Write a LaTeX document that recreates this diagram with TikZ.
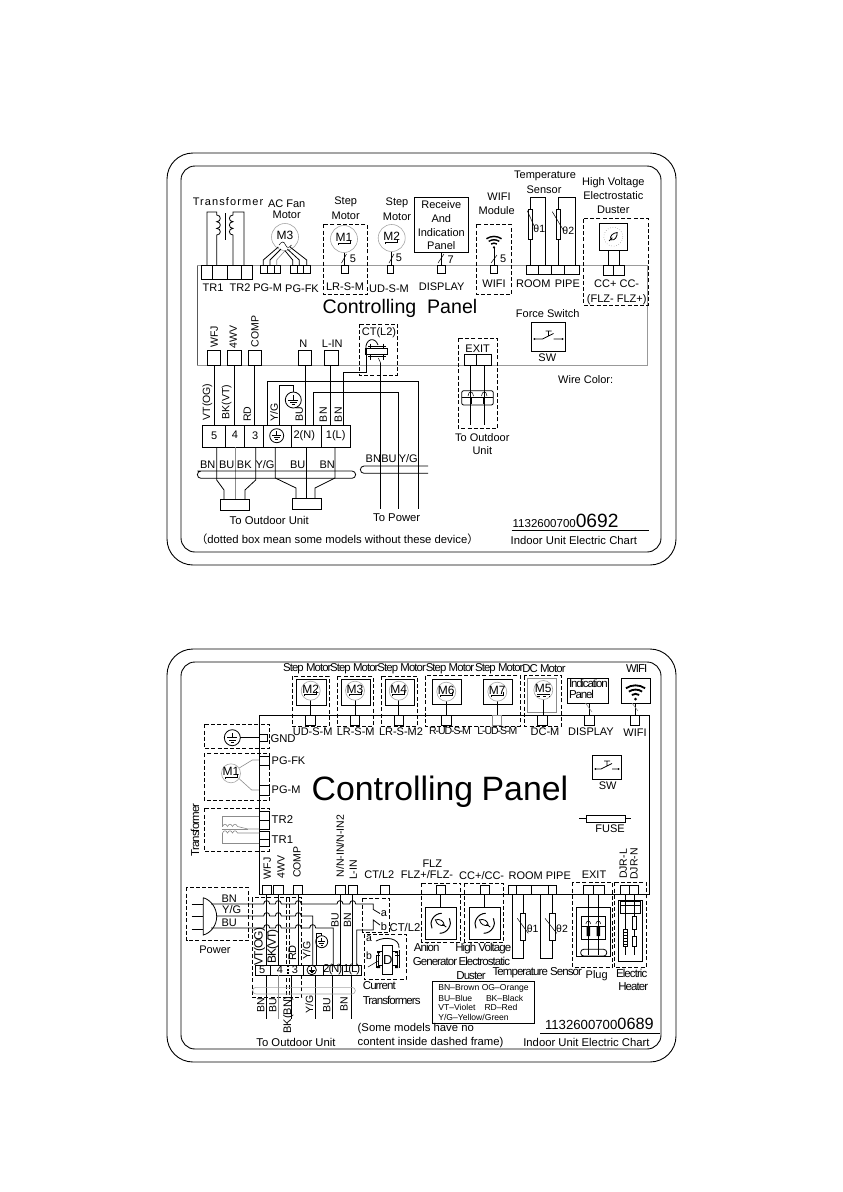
\documentclass[tikz,border=0pt]{standalone}
\usepackage{fontspec}
\setmainfont{Liberation Sans}
\newfontfamily\cond[LetterSpace=-8]{Liberation Sans}
\newfontfamily\condb[LetterSpace=-10]{Liberation Sans}
\newfontfamily\widef[LetterSpace=10]{Liberation Sans}
\newfontfamily\cjk{Noto Sans CJK SC}
\newcounter{tn}
\tikzset{
  lbl/.style={inner sep=0pt,outer sep=0pt,text=black},
  wire/.style={draw=black,line width=.8pt},
  gwire/.style={draw=black!45,line width=.6pt},
  dbox/.style={draw=black,line width=.8pt,dash pattern=on 4pt off 2.2pt},
  sbox/.style={draw=black,line width=.8pt,fill=white},
  cbox/.style={draw=black,line width=.8pt},
  frame/.style={draw=black,line width=.9pt,rounded corners=#1},
  panel/.style={draw=black!40,line width=.7pt}
}
% opt, x, y, size, text
\newcommand\txt[5][]{\stepcounter{tn}\node[lbl,#1] (t\arabic{tn}) at (#2,#3) {\fontsize{#4}{#4}\selectfont #5};}
\newcommand\rtxt[4]{\txt[rotate=90]{#1}{#2}{#3}{#4}}
\newcommand\conn[4]{\draw[cbox] (#1,#2) rectangle (#3,#4);}
\newcommand\hopp[2]{ -- (#1-3,#2) .. controls (#1-3,#2-4.5) and (#1+3,#2-4.5) .. (#1+3,#2)}
\newcommand\gnd[3]{\draw[wire] (#1,#2) circle[radius=#3pt];
  \draw[wire] (#1,#2-.62*#3) -- (#1,#2);
  \draw[wire] (#1-.62*#3,#2) -- (#1+.62*#3,#2) (#1-.42*#3,#2+.28*#3) -- (#1+.42*#3,#2+.28*#3) (#1-.2*#3,#2+.56*#3) -- (#1+.2*#3,#2+.56*#3);}
\newcommand\mcirc[4]{\draw[draw=black!35,line width=.6pt,fill=white] (#1,#2) circle[radius=#3pt];\txt{#1}{#2-1.5}{12}{#4}}
\newcommand\stepg[2]{\draw[wire,line width=.6pt] (#1-6,#2+6) -- (#1-6,#2+4) -- (#1+6,#2+4) -- (#1+6,#2+1);}
\newcommand\swsym[4]{\draw[wire] (#1,#2) rectangle (#3,#4);
  \draw[wire] (#1+3,{(#2+#4)/2+2}) -- ({(#1+#3)/2-6},{(#2+#4)/2+2}) -- ({(#1+#3)/2+5},{(#2+#4)/2-3.5})
  ({(#1+#3)/2+5},{(#2+#4)/2+2}) -- (#3-3,{(#2+#4)/2+2})
  ({(#1+#3)/2-3},{(#2+#4)/2-6}) -- ({(#1+#3)/2+3},{(#2+#4)/2-6}) ({(#1+#3)/2},{(#2+#4)/2-6}) -- ({(#1+#3)/2},{(#2+#4)/2-1.5});
  \fill (#1+3,{(#2+#4)/2+2}) circle[radius=1pt] (#3-3,{(#2+#4)/2+2}) circle[radius=1pt];}
\newcommand\wifi[3]{\fill (#1,#2+#3*.62) circle[radius=#3*.11pt];
  \foreach \r in {.4,.72,1.04}{\draw[black,line width=#3*.13pt] (#1-\r*#3*.66,#2+.62*#3-\r*#3*.75) .. controls (#1-\r*#3*.25,#2+.62*#3-\r*#3*1.02) and (#1+\r*#3*.25,#2+.62*#3-\r*#3*1.02) .. (#1+\r*#3*.66,#2+.62*#3-\r*#3*.75);}}
% leaf rising to upper right
\newcommand\leaf[3]{\draw[wire] (#1-#3*.6,#2+#3*.6) -- (#1-#3*.15,#2+#3*.15);
  \draw[wire] (#1-#3*.3,#2+#3*.45) .. controls (#1-#3*.65,#2-#3*.1) and (#1,#2-#3*.55) .. (#1+#3*.55,#2-#3*.6) .. controls (#1+#3*.6,#2) and (#1+#3*.2,#2+#3*.6) .. cycle;}
% leaf falling to lower right, inside two open arcs
\newcommand\leafb[3]{\draw[wire] (#1+#3*.8,#2+#3*.55) -- (#1+#3*.25,#2+#3*.12);
  \draw[wire] (#1-#3*.75,#2-#3*.5) .. controls (#1-#3*.1,#2-#3*.7) and (#1+#3*.5,#2-#3*.3) .. (#1+#3*.5,#2+#3*.3) .. controls (#1,#2+#3*.4) and (#1-#3*.6,#2+#3*.2) .. cycle;
  \draw[wire,line width=1pt] (#1-8.7,#2+5) .. controls (#1-12,#2-1) and (#1-7,#2-10) .. (#1+1,#2-10);
  \draw[wire,line width=1pt] (#1+8.7,#2-5) .. controls (#1+12,#2+1) and (#1+7,#2+10) .. (#1-1,#2+10);}
\newcommand\resis[4]{\draw[sbox] (#1,#2) rectangle (#3,#4);}
\begin{document}
\begin{tikzpicture}[x=1pt,y=-1pt]
\useasboundingbox (0,0) rectangle (843,1192);
\fill[white] (0,0) rectangle (843,1192);
% ========== TOP CHART ==========
\draw[frame=26pt] (167,153) rectangle (676,565);
\draw[frame=14pt] (181,166) rectangle (661,552);
\draw[panel] (197,265.5) -- (647,265.5) -- (647,365) -- (197,365);
\draw[wire,draw=black!65] (197,265.5) -- (197,365);
% Transformer
\txt{228}{201.7}{11}{\widef Transformer}
\conn{201}{265.3}{252}{279}
\draw[wire] (212,265.3)--(212,279) (227,265.3)--(227,279) (241,265.3)--(241,279);
\draw[wire] (207,265.3) -- (207,212) -- (216.7,212) -- (216.7,215)
  .. controls (221.5,215) and (221.5,221.7) .. (216.7,221.7) .. controls (221.5,221.7) and (221.5,228.4) .. (216.7,228.4) .. controls (221.5,228.4) and (221.5,235) .. (216.7,235) -- (216.7,265.3);
\draw[wire] (244,265.3) -- (244,212) -- (233,212) -- (233,215)
  .. controls (228.2,215) and (228.2,221.7) .. (233,221.7) .. controls (228.2,221.7) and (228.2,228.4) .. (233,228.4) .. controls (228.2,228.4) and (228.2,235) .. (233,235) -- (233,265.3);
\draw[wire] (225,213) -- (225,240);
% AC fan
\txt{286.7}{204}{11}{AC Fan}
\txt{286.7}{215}{11}{Motor}
\mcirc{285}{237}{13.5}{M3}
\draw[wire,line width=.5pt] (279,245) .. controls (282,241) and (284,241) .. (285.5,245) .. controls (287,248.5) and (289,248) .. (291.5,245);
\conn{260.7}{265.3}{280.7}{273}\draw[wire] (267.4,265.3)--(267.4,273) (274,265.3)--(274,273);
\conn{290.7}{265.3}{310}{273}\draw[wire] (297.1,265.3)--(297.1,273) (303.5,265.3)--(303.5,273);
\draw[wire] (278.3,247) -- (263.3,260) -- (263.3,265.3);
\draw[wire] (281,249) -- (270,260) -- (270,265.3);
\draw[gwire] (285,250.7) -- (276.7,260) -- (276.7,265.3);
\draw[wire] (290,247) -- (306.7,260) -- (306.7,265.3);
\draw[wire] (287.3,249) -- (299.3,260) -- (299.3,265.3);
\draw[wire] (285,250.7) -- (292.7,260) -- (292.7,265.3);
\txt{213}{287.7}{11}{TR1}\txt{240}{287.7}{11}{TR2}\txt{267.7}{288}{11}{PG-M}\txt{302}{288.7}{11}{PG-FK}
% step motors
\txt{345.7}{202}{11}{Step}\txt{345.7}{216}{11}{Motor}
\txt{397}{203}{11}{Step}\txt{397}{217}{11}{Motor}
\draw[dbox] (323.3,224.3) rectangle (367.3,294.3);
\draw[wire] (344,252.5) -- (344,265.3);
\mcirc{344}{239}{13.5}{M1}\stepg{344}{239}
\draw[wire,line width=.5pt] (341.5,263) -- (346.5,254);
\txt{353}{259}{11}{5}
\conn{341.3}{265.3}{348.3}{273.3}
\txt{345}{287}{11}{LR-S-M}
\draw[wire] (391.7,251.5) -- (391.7,265.3);
\mcirc{391.7}{238}{13.5}{M2}\stepg{391.7}{238}
\draw[wire,line width=.5pt] (389,263) -- (394,254);
\txt{399}{258}{11}{5}
\conn{387}{265.3}{393.5}{273.3}
\txt{389}{289}{11}{UD-S-M}
\txt[anchor=west]{322.7}{308}{19.6}{Controlling\hspace{.55em}Panel}
% Receive
\draw[wire] (414.3,197.3) rectangle (468.3,252.3);
\txt{441.3}{205}{11}{Receive}\txt{441.3}{218.3}{11}{And}\txt{441.3}{232.3}{11}{Indication}\txt{441.3}{246}{11}{Panel}
\draw[wire] (441.7,252.3) -- (441.7,265.3);
\draw[wire,line width=.5pt] (438,263) -- (444,254);
\txt{450.7}{260}{11}{7}
\conn{437.3}{265.3}{445}{273}
\txt{441.7}{286.7}{11}{DISPLAY}
% WIFI
\txt{499}{196.7}{11}{WIFI}\txt{496.7}{211}{11}{Module}
\draw[dbox] (476.7,224.3) rectangle (511.3,294.3);
\wifi{494}{240.5}{11}
\draw[wire] (494,247) -- (494,265.3);
\draw[wire,line width=.5pt] (491,263) -- (497,255);
\txt{503.3}{259}{11}{5}
\conn{490.3}{265.3}{497.7}{273.3}
\txt{494}{284}{11}{WIFI}
% Temperature
\txt{545}{175.7}{11}{Temperature}\txt{544}{190}{11}{Sensor}
\draw[wire] (530.7,265.3) -- (530.7,197.3) -- (545.7,197.3) -- (545.7,265.3);
\resis{528.7}{209.3}{532.7}{239.3}
\draw[wire,line width=.5pt] (527.3,210.7) -- (535,228);
\txt{539.3}{229}{10.5}{θ1}
\draw[wire] (558.3,265.3) -- (558.3,197.3) -- (575.3,197.3) -- (575.3,265.3);
\resis{556.7}{209.3}{560.3}{239.3}
\draw[wire,line width=.5pt] (552.3,211.7) -- (563.3,230);
\txt{568.3}{230.7}{10.5}{θ2}
\conn{526.3}{265.3}{579}{274}\draw[wire] (538.3,265.3)--(538.3,274) (551,265.3)--(551,274) (564.7,265.3)--(564.7,274);
\txt{533.3}{284}{11}{ROOM}\txt{567.3}{284}{11}{PIPE}
% HV
\txt{613.3}{182.3}{11}{High Voltage}\txt{613.3}{196}{11}{Electrostatic}\txt{613.3}{210}{11}{Duster}
\draw[dbox] (583.7,218.7) rectangle (648.3,305);
\draw[wire] (599.3,223.3) rectangle (627.3,250);
\draw[draw=black!50,dotted,line width=.5pt] (613.3,236.7) circle[radius=9.5pt];
\leaf{613.3}{236.7}{7}
\draw[wire] (608.3,250)--(608.3,265.3) (619.3,250)--(619.3,265.3);
\conn{603.3}{265.3}{624.3}{275}\draw[wire] (613.7,265.3)--(613.7,275);
\txt{616.7}{284}{11}{CC+ CC-}\txt{616.7}{299.3}{11}{(FLZ- FLZ+)}
% SW
\txt{547.7}{313.3}{11}{Force Switch}
\swsym{531.3}{322.7}{565.7}{351.3}
\txt{547.3}{357.3}{11}{SW}
% Lower connectors
\conn{207.3}{350}{220.7}{365}\conn{227.3}{350}{241.3}{365}\conn{248.3}{350}{261.3}{365}\conn{298.3}{350}{311.7}{365}\conn{324.7}{350}{338.3}{365}
\rtxt{214.3}{337}{10.5}{WFJ}\rtxt{233.3}{336.7}{10.5}{4WV}\rtxt{255}{331.7}{10.5}{COMP}
\txt{303.3}{344}{11}{N}\txt{332.3}{344}{11}{L-IN}
% CT(L2)
\draw[dbox] (359.3,324) rectangle (397.3,375);
\txt{379}{333}{11}{CT(L2)}
\draw[wire] (366,349) .. controls (365,339) and (375,336) .. (378,345);
\draw[wire] (370,343.5) -- (370,359.5) (383.3,343.5) -- (383.3,359.5);
\draw[black,line width=1.3pt] (368,346.3) -- (386,346.3) (368,356.8) -- (386,356.8);
\draw[sbox,line width=1.2pt] (366,348.3) rectangle (387.7,354.2);
\draw[wire,line width=.6pt] (366.7,354.2) -- (366.7,359);
\draw[wire,line width=.5pt] (378.3,358) -- (380.7,363);
% Wires to terminals
\draw[wire] (214.3,365)--(214.3,425) (234.3,365)--(234.3,425) (254,365)--(254,425) (305.7,365)--(305.7,425) (330.3,365)--(330.3,425);
\draw[wire] (267.3,425)--(267.3,381.3)--(418.3,381.3)--(418.3,509.3);
\draw[wire] (279.3,425)--(279.3,385.3)--(293.3,385.3)--(293.3,392);
\gnd{293.3}{400}{8}
\draw[wire] (313.7,425)--(313.7,392.3)--(398.3,392.3)--(398.3,509.3);
\draw[wire] (343.3,425)--(343.3,372.3)--(366.7,372.3)--(366.7,359);
\draw[wire] (380.7,363)--(380.7,509.3);
% Terminal block
\draw[wire,fill=white] (202.7,425) rectangle (350,447.3);
\draw[wire] (225.3,425)--(225.3,447.3) (244.7,425)--(244.7,447.3) (263.7,425)--(263.7,447.3) (291.3,425)--(291.3,447.3) (321.7,425)--(321.7,447.3);
\txt{214.3}{435.7}{11}{5}\txt{235}{435}{11}{4}\txt{255.3}{435.7}{11}{3}\gnd{276.7}{435.7}{7}\txt{304.3}{435.7}{11}{2(N)}\txt{335.7}{435.7}{11}{1(L)}
\rtxt{207.3}{402}{10.5}{VT(OG)}\rtxt{226.7}{402}{10.5}{BK(VT)}\rtxt{247.3}{414}{10.5}{RD}\rtxt{274}{412.7}{10.5}{Y/G}\rtxt{299.3}{414}{10.5}{BU}\rtxt{323.3}{414.7}{10.5}{BN}\rtxt{338.3}{414.7}{10.5}{BN}
\draw[wire] (216.7,447.3)--(216.7,480)--(224,490)--(224,499.3);
\draw[gwire] (235.7,447.3)--(235.7,499.3);
\draw[wire] (255.7,447.3)--(255.7,480)--(245,490)--(245,499.3);
\draw[wire] (275.3,447.3)--(275.3,478)--(296,488)--(296,498.3);
\draw[wire] (306.7,447.3)--(306.7,498.3);
\draw[wire] (335,447.3)--(335,478)--(315,488)--(315,498.3);
\draw[wire] (220,499.3) rectangle (249.3,510);
\draw[wire] (292.3,498.3) rectangle (321.7,509);
\draw[wire] (197.3,471) -- (352,471) arc[start angle=90,end angle=-90,radius=3.65pt] -- (201,478.3) arc[start angle=270,end angle=90,radius=3.65pt];
\draw[wire] (364,466) -- (428,466) (428,473.3) -- (364,473.3) arc[start angle=270,end angle=90,radius=3.65pt];
\txt{207.7}{464.3}{11}{BN}\txt{226.7}{464.3}{11}{BU}\txt{244.3}{465}{11}{BK}\txt{265}{465}{11}{Y/G}\txt{297.7}{465}{11}{BU}\txt{327.3}{465}{11}{BN}
\txt{373.3}{459}{11}{BN}\txt{389}{459}{11}{BU}\txt{408.3}{459}{11}{Y/G}
\txt{269.3}{520}{11.3}{To Outdoor Unit}\txt{396.7}{517.7}{11.3}{To Power}
\txt[anchor=west]{196}{539.3}{11.3}{{\cjk （}dotted box mean some models without these device{\cjk ）}}
% EXIT
\draw[dbox] (458.3,338.3) rectangle (497.7,428.3);
\txt{477.7}{348.3}{11}{EXIT}
\conn{464.3}{354.3}{491}{365.7}\draw[wire] (476.7,354.3)--(476.7,365.7);
\draw[wire] (470.7,365.7)--(470.7,425) (484.3,365.7)--(484.3,425);
\draw[wire,rounded corners=2pt] (461.7,390.7) rectangle (493.3,405);
\draw[wire] (461.7,397.3)--(493.3,397.3);
\draw[black,line width=2pt] (470.7,398.3)--(470.7,404) (484.3,398.3)--(484.3,404);
\draw[wire,line width=.5pt] (468,396) .. controls (468.5,390.5) and (473,390.5) .. (473.5,396) (481.5,396) .. controls (482,390.5) and (486.5,390.5) .. (487,396);
\txt{482.3}{437.3}{11}{To Outdoor}\txt{482.3}{450.7}{11}{Unit}
\txt{585.7}{379.3}{11}{Wire Color:}
% code
\txt[anchor=base west]{512.7}{527}{11.5}{1132600700{\fontsize{19.2}{19.2}\selectfont 0692}}
\draw[wire] (511.7,530.3) -- (649,530.3);
\txt[anchor=west]{510.7}{540}{11.3}{Indoor Unit Electric Chart}
% ========== BOTTOM CHART ==========
\draw[frame=26pt] (167,649) rectangle (676,1062);
\draw[frame=14pt] (181,662) rectangle (661,1049);
\draw[wire] (259.3,894.3) -- (259.3,715.3) -- (649.7,715.3) -- (649.7,894.3) -- cycle;
% top motors
\newcommand\topm[8]{%  dash L,R; solid L,R; cx; conn L,R; name
 \draw[dbox] (#1,676.3) rectangle (#2,726);
 \draw[wire] (#3,679.3) rectangle (#4,705);
 \draw[wire] (#5,700) -- (#5,715.3);
 \mcirc{#5}{690.7}{9.5}{#8}\stepg{#5}{690}
 \draw[wire] (#6,715.3) rectangle (#7,725);
 }
\topm{292.3}{329.3}{296}{326}{310.7}{305.7}{315.7}{M2}
\topm{337.3}{373.3}{341.7}{370}{355}{350.3}{359.7}{M3}
\topm{381.3}{417.7}{385.3}{414.3}{398.7}{394.7}{403.3}{M4}
\draw[dbox] (425.3,675.5) rectangle (520,726);
\draw[wire] (432.3,679.3) rectangle (461.7,704.3);
\draw[wire] (446.3,700) -- (446.3,715.3);
\mcirc{446.3}{691.7}{9.5}{M6}\stepg{446.3}{691}
\conn{441}{715.3}{451.7}{725}
\draw[wire] (483.3,679.3) rectangle (512.3,704.3);
\draw[wire] (497.3,700) -- (497.3,715.3);
\mcirc{497.3}{691.7}{9.5}{M7}\stepg{497.3}{691}
\draw[gwire] (492.7,715.3) rectangle (501.7,725);
\draw[dbox] (524.3,675.5) rectangle (561.7,726);
\draw[gwire] (527.3,678.3) rectangle (556,712.3);
\draw[wire] (543.3,700) -- (543.3,715.3);
\mcirc{543.3}{690}{9.5}{M5}\draw[wire,dashed,line width=.4pt] (537,696)--(549.5,696);\draw[wire,line width=.4pt] (537,694.3)--(549.5,694.3);
\conn{537.7}{715.3}{547.3}{725}
\txt{307.3}{668.3}{11.4}{\cond Step Motor}\txt{354.3}{668.3}{11.4}{\cond Step Motor}\txt{401.7}{668.3}{11.4}{\cond Step Motor}\txt{450}{668.3}{11.4}{\cond Step Motor}\txt{499.3}{668.3}{11.4}{\cond Step Motor}\txt{544}{668.3}{11.4}{\cond DC Motor}\txt{636.7}{668.3}{11.4}{\cond WIFI}
\txt{312.7}{731.7}{11}{UD-S-M}\txt{355.7}{731.7}{11}{LR-S-M}\txt{401}{731.7}{11}{LR-S-M2}\txt{450}{731}{10.5}{\condb R-UD-S-M}\txt{497.3}{731}{10.5}{\condb L-UD-S-M}\txt{545}{731.7}{11}{DC-M}
% indication
\draw[wire] (567.3,678.3) rectangle (608.3,703.3);
\txt[anchor=west]{569}{683.3}{11.5}{\condb Indication}\txt[anchor=west]{569}{694.3}{11.5}{\condb Panel}
\draw[wire] (589.3,703.3)--(589.3,715.3);
\draw[gwire] (585.5,703)--(592,712);
\conn{584.7}{715.3}{594.3}{725}
\txt{591}{731.7}{11}{DISPLAY}
\draw[wire] (621.3,678.3) rectangle (650.7,703.3);
\wifi{635.5}{690.5}{14}
\draw[wire] (635.3,703.3)--(635.3,715.3);
\draw[gwire] (632,703)--(638,711);
\conn{630.7}{715.3}{639.3}{725}
\txt{635}{732.3}{11}{WIFI}
% left
\draw[dbox] (204.3,724.3) rectangle (269.3,748.3);
\gnd{232.3}{737.7}{8}
\draw[wire] (240.3,737.7) -- (259.3,737.7);
\conn{259.3}{734.3}{267.3}{741.7}
\txt[anchor=west]{270.5}{738.3}{11.3}{GND}
\draw[dbox] (204.3,753.3) rectangle (269.3,800.3);
\draw[gwire] (238.7,768.3) -- (252.3,760) -- (259.3,760);
\draw[gwire] (238.7,778.3) -- (251.7,790) -- (259.3,790);
\mcirc{231}{773.3}{9.5}{M1}\stepg{231}{773}
\conn{259.3}{756.7}{269.3}{765.7}\conn{259.3}{785}{269.3}{795}
\txt[anchor=west]{271.7}{761}{11}{PG-FK}\txt[anchor=west]{271.7}{789.3}{11}{PG-M}
\draw[dbox] (204.3,808.3) rectangle (269.3,851);
\draw[wire] (259.3,811.7) rectangle (269.3,829) (259.3,831) rectangle (269.3,846.7);
\draw[wire] (259.3,820.3)--(269.3,820.3) (259.3,839)--(269.3,839);
\draw[gwire] (259.3,816) -- (222.5,816) -- (222.5,826.5);
\draw[gwire] (222.5,826.5) .. controls (224,823.5) and (226,823.5) .. (227.5,826.5) .. controls (229,823.5) and (231,823.5) .. (232.5,826.5) .. controls (234,823.5) and (236,823.5) .. (237.5,826.5) -- (248,829) -- (259.3,829);
\draw[gwire] (222,829.5) -- (248,829.5);
\draw[gwire] (259.3,843) -- (222.5,843) -- (222.5,833);
\draw[gwire] (222.5,833) .. controls (224,830) and (226,830) .. (227.5,833) .. controls (229,830) and (231,830) .. (232.5,833) .. controls (234,830) and (236,830) .. (237.5,833) -- (259.3,833);
\rtxt{195}{830}{11.5}{\cond Transformer}
\txt[anchor=west]{271.7}{820}{11.3}{TR2}\txt[anchor=west]{271.7}{840}{11.3}{TR1}
\txt[anchor=west]{311.7}{791.7}{33.8}{Controlling\hspace{.25em}Panel}
\swsym{592.3}{755}{621.7}{779}
\txt{607.7}{786}{11}{SW}
\draw[wire] (579.3,818.7) -- (586,818.7) (625,818.7) -- (630.7,818.7);
\draw[wire] (586,815) rectangle (625,822.3);
\txt{610}{828.3}{11}{FUSE}
\rtxt{623.3}{864}{10.5}{DJR-L}\rtxt{634}{864}{10.5}{DJR-N}
% bottom labels
\conn{262}{885}{271.7}{894.3}\conn{273.7}{885}{283.3}{894.3}\conn{293.3}{885}{302.7}{894.3}\conn{335.7}{885}{345.7}{894.3}\conn{348.3}{885}{357.3}{894.3}\conn{380.3}{885}{389.7}{894.3}
\rtxt{267.3}{868.3}{10.5}{WFJ}\rtxt{281}{866.7}{10.5}{4WV}\rtxt{297}{862}{10.5}{COMP}\rtxt{340}{846}{10.5}{N/N-IN/N-IN2}\rtxt{353.3}{870}{10.5}{L-IN}
\txt{379.3}{875}{11}{CT/L2}\txt{432.3}{863.3}{11}{FLZ}\txt{427}{875}{11}{FLZ+/FLZ-}\txt{481.7}{875.7}{11}{CC+/CC-}\txt{525.7}{875.7}{11}{ROOM}\txt{558.3}{875.7}{11}{PIPE}\txt{594}{875}{11}{EXIT}
% Power
\draw[dbox] (186.7,887.3) rectangle (248.3,940.7);
\draw[wire] (203.3,897.7) -- (203.3,935) .. controls (211,933) and (216.7,925) .. (216.7,916.7) .. controls (216.7,908) and (211,900) .. (203.3,897.7);
\draw[wire] (191.7,904)--(203.3,904) (191.7,916.7)--(203.3,916.7) (191.7,929.3)--(203.3,929.3);
\txt{229.3}{898.3}{11}{BN}\txt{231.7}{910}{11}{Y/G}\txt{229.3}{922.7}{11}{BU}
\txt{215}{950}{11}{Power}
% Dashed terminal area
\draw[dbox] (252.3,897.7) rectangle (301.7,997.3);
\draw[dbox] (286.7,897.7) -- (286.7,997.3) (289.3,897.7) -- (289.3,997.3);
% wires
\draw[wire] (266.7,894.3)--(266.7,965) (278.3,894.3)--(278.3,965) (298.3,894.3)--(298.3,965) (340,894.3)--(340,965) (352.7,894.3)--(352.7,965);
\draw[wire] (211,904) \hopp{266.7}{904} \hopp{278.3}{904} \hopp{298.3}{904} \hopp{340}{904} \hopp{352.7}{904} -- (373.3,904) -- (373.3,909.5) -- (380,913.5);
\draw[wire] (216.7,916) \hopp{266.7}{916} \hopp{278.3}{916} \hopp{298.3}{916} -- (312.7,916) -- (312.7,965);
\draw[wire] (211,928) \hopp{266.7}{928} \hopp{278.3}{928} \hopp{298.3}{928} \hopp{312.7}{928} -- (333.3,928) -- (333.3,965);
\draw[wire] (380,925) -- (373.3,920) -- (373.3,930) -- (356.7,930) -- (356.7,965);
\draw[wire] (316.7,965) -- (316.7,933.3) -- (321.7,933.3) -- (321.7,935.5);
\gnd{321.7}{941.7}{6}
\rtxt{335}{920}{10.5}{BU}\rtxt{347.5}{920}{10.5}{BN}
\draw[dbox] (362.7,898.3) rectangle (389.3,932.7);
\txt{384}{913.3}{11}{a}\txt{384}{926.7}{11}{b}
\txt{405}{927.3}{11.3}{CT/L2}
% terminal 2
\draw[wire,fill=white] (255,965) rectangle (361.7,975);
\draw[wire] (270,965)--(270,975) (303.3,965)--(303.3,975) (323.3,965)--(323.3,975) (342.7,965)--(342.7,975);
\draw[black,line width=1.2pt,dash pattern=on 2pt off 1.5pt] (288,965)--(288,975);
\txt{262.3}{970}{11}{5}\txt{280}{970}{11}{4}\txt{295}{970}{11}{3}\gnd{311.7}{970}{4.7}\txt{332.7}{970}{11.5}{\condb 2(N)}\txt{351.7}{970}{11.5}{\condb 1(L)}
\rtxt{259.5}{946.5}{12}{\cond VT(OG)}\rtxt{272.7}{946.5}{12}{\cond BK(VT)}\rtxt{292.3}{953}{11}{RD}\rtxt{306.7}{950}{10.5}{Y/G}
\draw[wire] (266.7,975)--(266.7,1019.3) (315.7,975)--(315.7,1019.3) (332.7,975)--(332.7,1019.3) (351,975)--(351,1019.3) (291.7,975)--(291.7,1019.3);
\draw[gwire] (278.3,975)--(278.3,1019.3);
\draw[draw=black!35,line width=.6pt] (256,987.3) -- (352,987.3) arc[start angle=90,end angle=-90,radius=3.35pt] -- (256,994) arc[start angle=270,end angle=90,radius=3.35pt];
\rtxt{260.7}{1005}{10.5}{BN}\rtxt{272.7}{1005}{10.5}{BU}\rtxt{288.3}{1015}{11}{BK(BN)}\rtxt{309.3}{1004}{10.5}{Y/G}\rtxt{326.7}{1005}{10.5}{BU}\rtxt{344}{1004}{10.5}{BN}
\txt{296}{1042.3}{11.3}{To Outdoor Unit}
% Current transformers
\draw[dbox] (364,934.3) rectangle (406,979.3);
\txt{369}{938.3}{10.5}{a}\txt{369}{956}{10.5}{b}
\draw[wire] (376,941) .. controls (385,936) and (400,938) .. (399,948);
\draw[wire,line width=.5pt] (368,967) -- (378,961);
\draw[wire] (376,955) -- (376,968) (399,950) -- (399,968) (376,955)--(380,955) (399,955)--(395,955);
\draw[wire] (378.5,951) rectangle (382.7,965);
\draw[wire] (392.7,951) rectangle (397,965);
\fill (377,951) rectangle (380,953) (395,951) rectangle (398,953) (377,966) rectangle (380,968) (395,966) rectangle (398,968);
\draw[sbox] (382.7,945) rectangle (392.7,974);
\txt{387.7}{960}{13}{D}
\txt{379.3}{986}{11.5}{\cond Current}\txt{391.7}{1000}{11.5}{\cond Transformers}
% FLZ
\draw[dbox] (421.7,883.3) rectangle (460.7,942.3);
\conn{436.3}{885}{445.3}{894.3}
\draw[wire] (440.7,894.3)--(440.7,907.3);
\draw[wire] (425,907.3) rectangle (456,939.3);
\leafb{440.7}{923.3}{7}
\draw[dbox] (464.7,883.3) rectangle (503.3,942.3);
\conn{480}{885}{489.3}{894.3}
\draw[wire] (484.7,894.3)--(484.7,907.3);
\draw[wire] (469,907.3) rectangle (500,939.3);
\leafb{484.7}{923.3}{7}
\txt{426.7}{947.3}{11.5}{\cond Anion}\txt{435}{961.7}{11.5}{\cond Generator}
\txt{483.3}{948.3}{11.5}{\cond High Voltage}\txt{484.3}{961.7}{11.5}{\cond Electrostatic}\txt{471}{975.7}{11.5}{\cond Duster}
% Temperature
\conn{508.3}{885}{556.7}{894.3}\draw[wire] (516.7,885)--(516.7,894.3) (531.7,885)--(531.7,894.3) (548.3,885)--(548.3,894.3);
\draw[wire] (512.3,894.3)--(512.3,958.3)--(523,958.3)--(523,894.3);
\draw[wire] (540.7,894.3)--(540.7,958.3)--(552.3,958.3)--(552.3,894.3);
\resis{520.3}{913.3}{525.7}{940}
\resis{549.7}{913.3}{555.3}{940}
\draw[wire,line width=.5pt] (517.3,918.3) -- (528.3,933.3);
\draw[wire,line width=.5pt] (545,918.3) -- (556.7,933.3);
\txt{532.7}{929}{10.5}{θ1}\txt{562}{929}{10.5}{θ2}
\txt{537.3}{972.3}{11.5}{\cond Temperature Sensor}
% Plug
\draw[dbox] (572.7,882.3) rectangle (612.3,967.3);
\conn{583.3}{885}{604}{894.3}\draw[wire] (593.3,885)--(593.3,894.3);
\draw[wire] (576,907.3) rectangle (610,956.7);
\draw[wire] (581.7,916.7) rectangle (605,939.3);
\draw[wire] (588.3,894.3)--(588.3,955) (598.3,894.3)--(598.3,955);
\draw[wire] (581.7,926)--(605,926);
\fill[black] (586.7,926) rectangle (590,936) (596.7,926) rectangle (600,936);
\draw[wire,line width=.5pt] (585.8,924) .. controls (586.5,920) and (590,920) .. (590.8,924) (595.8,924) .. controls (596.5,920) and (600,920) .. (600.8,924);
\draw[wire,rounded corners=3pt] (580.7,949.3) rectangle (606.7,956);
\txt{596.7}{975.7}{11}{Plug}
% Heater
\draw[dbox] (614,882.3) rectangle (646,967.3);
\conn{620.7}{885}{638.7}{894.3}\draw[wire] (629.3,885)--(629.3,894.3);
\draw[wire] (618.3,900) rectangle (642.7,961.7);
\draw[wire] (620.7,901.7) rectangle (640,913.3);
\draw[wire] (620.7,905.5)--(640,905.5);
\draw[wire] (625,894.3)--(625,955) (634,894.3)--(634,955);
\draw[sbox] (623.5,929) rectangle (627,946.7);
\foreach \yy in {932,935,938,941,944}{\draw[wire,line width=.4pt] (623.5,\yy)--(627,\yy);}
\draw[sbox] (632,916.7) rectangle (636,929.3);
\draw[sbox] (632,936) rectangle (636,946.7);
\txt{631.7}{973.3}{11.5}{\cond Electric}\txt{633.3}{986.7}{11.5}{\cond Heater}
% legend
\draw[wire] (432.7,981) rectangle (534,1023.3);
\txt[anchor=west]{438.3}{988.3}{8.6}{BN--Brown OG--Orange}
\txt[anchor=west]{438.3}{998.3}{8.6}{BU--Blue}\txt[anchor=west]{486}{998.3}{8.6}{BK--Black}
\txt[anchor=west]{438.3}{1007.7}{8.6}{VT--Violet}\txt[anchor=west]{484.5}{1007.7}{8.6}{RD--Red}
\txt[anchor=west]{438.3}{1017.3}{8.6}{Y/G--Yellow/Green}
\txt[anchor=west]{357.7}{1029}{11.3}{(Some models have no}
\txt[anchor=west]{357.7}{1042.7}{11.3}{content inside dashed frame)}
\txt[anchor=base west]{545}{1029}{13.2}{1132600700{\fontsize{16.3}{16.3}\selectfont 0689}}
\draw[wire] (540,1033) -- (660,1033);
\txt[anchor=west]{523.3}{1042.7}{11.3}{Indoor Unit Electric Chart}
\end{tikzpicture}
\end{document}
